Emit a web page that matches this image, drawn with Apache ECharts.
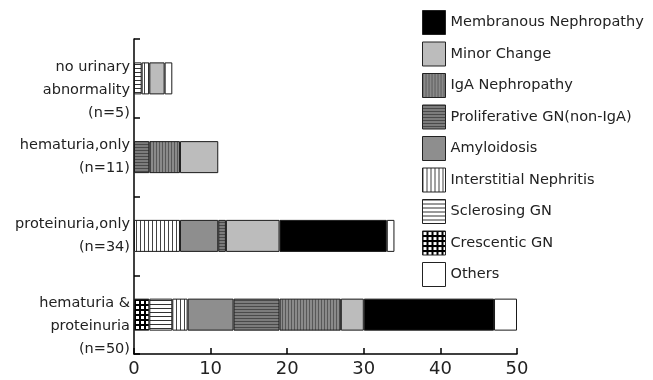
<!DOCTYPE html>
<html>
<head>
<meta charset="utf-8">
<script src="https://cdn.jsdelivr.net/npm/echarts@6/dist/echarts.min.js"></script>
<style>html,body{margin:0;padding:0;background:#fff}#c{width:653px;height:380px}</style>
</head>
<body>
<div id="c"></div>
<script>
// ---- data ----
var categories = ['no urinary\nabnormality\n(n=5)', 'hematuria,only\n(n=11)', 'proteinuria,only\n(n=34)', 'hematuria &\nproteinuria\n(n=50)'];
var xTicks = [0, 10, 20, 30, 40, 50];
var crescenticGN   = [0, 0, 0, 2];
var sclerosingGN   = [1, 0, 0, 3];
var interstitial   = [1, 0, 6, 2];
var amyloidosis    = [0, 0, 5, 6];
var proliferative  = [0, 2, 1, 6];
var igaNephropathy = [0, 4, 0, 8];
var minorChange    = [2, 5, 7, 3];
var membranous     = [0, 0, 14, 17];
var others         = [1, 0, 1, 3];
var legendOrder = ['Membranous Nephropathy', 'Minor Change', 'IgA Nephropathy', 'Proliferative GN(non-IgA)', 'Amyloidosis', 'Interstitial Nephritis', 'Sclerosing GN', 'Crescentic GN', 'Others'];

// ---- patterns ----
function pat(w, h, bg, draw) {
  var c = document.createElement('canvas');
  c.width = w; c.height = h;
  var g = c.getContext('2d');
  g.fillStyle = bg; g.fillRect(0, 0, w, h);
  if (draw) draw(g);
  return { image: c, repeat: 'repeat' };
}
function vlines(col, x) { return function (g) { g.fillStyle = col; g.fillRect(x, 0, 1, 100); }; }
function hlines(col, y) { return function (g) { g.fillStyle = col; g.fillRect(0, y, 100, 1); }; }

var styles = {
  'Crescentic GN': pat(5, 5, '#000', function (g) { g.fillStyle = '#fff'; g.fillRect(1, 1, 3, 3); }),
  'Sclerosing GN': pat(4, 4, '#fff', hlines('#333', 0)),
  'Interstitial Nephritis': pat(4, 4, '#fff', vlines('#444', 0)),
  'Amyloidosis': '#8e8e8e',
  'Proliferative GN(non-IgA)': pat(3, 3, '#7c7c7c', hlines('#4a4a4a', 0)),
  'IgA Nephropathy': pat(3, 3, '#8a8a8a', vlines('#585858', 0)),
  'Minor Change': '#bcbcbc',
  'Membranous Nephropathy': '#000',
  'Others': '#fff'
};

var stackSeries = [
  ['Crescentic GN', crescenticGN],
  ['Sclerosing GN', sclerosingGN],
  ['Interstitial Nephritis', interstitial],
  ['Amyloidosis', amyloidosis],
  ['Proliferative GN(non-IgA)', proliferative],
  ['IgA Nephropathy', igaNephropathy],
  ['Minor Change', minorChange],
  ['Membranous Nephropathy', membranous],
  ['Others', others]
];

var series = stackSeries.map(function (s) {
  return {
    name: s[0], type: 'bar', stack: 'total', barWidth: 32,
    data: s[1].map(function (v) { return v === 0 ? '-' : v; }),
    itemStyle: { color: styles[s[0]], borderColor: '#1a1a1a', borderWidth: 1 },
    emphasis: { disabled: true }
  };
});

var chart = echarts.init(document.getElementById('c'), null, { renderer: 'canvas' });
chart.setOption({
  animation: false,
  backgroundColor: '#fff',
  textStyle: { fontFamily: 'DejaVu Sans' },
  grid: { left: 134, right: 136, top: 39, bottom: 26, containLabel: false },
  legend: {
    data: legendOrder, orient: 'vertical', left: 422, top: 10, padding: 0,
    itemWidth: 23, itemHeight: 24, itemGap: 6.5, icon: 'rect',
    itemStyle: { borderColor: '#222', borderWidth: 1 },
    textStyle: { fontSize: 14.5, color: '#222', fontFamily: 'DejaVu Sans' },
    selectedMode: false
  },
  xAxis: {
    type: 'value', min: xTicks[0], max: xTicks[xTicks.length - 1], interval: 10,
    axisLine: { show: true, lineStyle: { color: '#000', width: 1.5 } },
    axisTick: { show: true, inside: true, length: 6, lineStyle: { color: '#000', width: 1.5 } },
    splitLine: { show: false },
    axisLabel: { fontSize: 18, color: '#222', margin: 6, fontFamily: 'DejaVu Sans' }
  },
  yAxis: {
    type: 'category', data: categories, inverse: true,
    axisLine: { show: true, lineStyle: { color: '#000', width: 1.5 } },
    axisTick: { show: true, inside: true, length: 6, lineStyle: { color: '#000', width: 1.5 } },
    axisLabel: {
      fontSize: 14.5, color: '#222', margin: 4, lineHeight: 23, align: 'right',
      fontFamily: 'DejaVu Sans',
      formatter: function (v) { return v.split('\n').length === 3 ? '\n' + v : v; }
    }
  },
  series: series
});
</script>
</body>
</html>
